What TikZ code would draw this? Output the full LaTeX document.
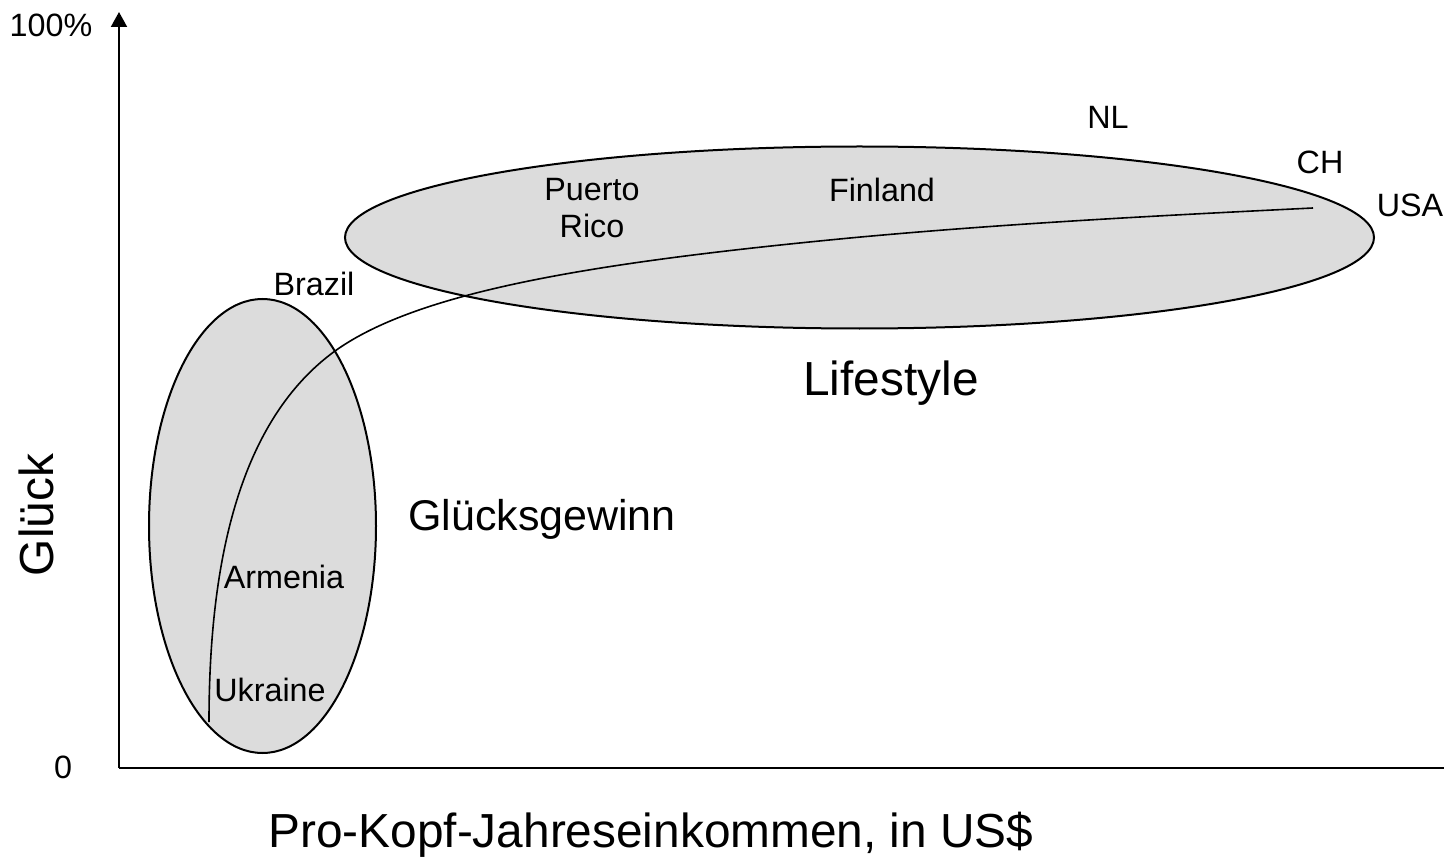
\documentclass[tikz,border=0pt]{standalone}
\usepackage{fontspec}
\setmainfont{Liberation Sans}
\usetikzlibrary{arrows.meta}
\definecolor{blobfill}{HTML}{DCDCDC}
\tikzset{
  axisline/.style={line width=2pt, draw=black},
  blob/.style={line width=2pt, draw=black, fill=blobfill},
  trend/.style={line width=1.6pt, draw=black},
  small/.style={font=\fontsize{32.3}{37}\selectfont, inner sep=0pt, align=center},
  big/.style={font=\fontsize{47.8}{54}\selectfont, inner sep=0pt},
  mid/.style={font=\fontsize{43}{48}\selectfont, inner sep=0pt}
}
\begin{document}
\begin{tikzpicture}[x=1pt,y=-1pt]
\useasboundingbox (0,0) rectangle (1444,861);
% regions
\path[blob] (262.5,526) ellipse [x radius=113.5, y radius=227];
\path[blob] (859.5,237.5) ellipse [x radius=514.5, y radius=91];
% axes
\coordinate (O) at (119,768);
\coordinate (ytop) at (119,12);
\coordinate (xend) at (1444,768);
\draw[axisline, -{Triangle[length=15pt,width=16pt]}] (O) -- (ytop);
\draw[axisline] (O) -- (xend);
% trend curve
\coordinate (c0) at (209,722);
\coordinate (c1) at (335,351);
\coordinate (c2) at (1313,208);
\draw[trend] (c0) .. controls (209,560) and (240,420) .. (c1)
  .. controls (420,290) and (600,262) .. (850,238)
  .. controls (1000,224) and (1150,216) .. (c2);
% labels
\node[small] (l100) at (51,25) {100\%};
\node[small] (l0) at (63,767) {0};
\node[big, rotate=90] (glueck) at (36,515) {Glück};
\node[big] (xlab) at (651,835) {Pro-Kopf-Jahreseinkommen, in US\$};
\node[big] (life) at (891,383) {Lifestyle};
\node[mid] (gewinn) at (542,519) {Glücksgewinn};
\node[small] (brazil) at (314,284) {Brazil};
\node[small] (pr) at (592,208) {Puerto\\Rico};
\node[small] (fin) at (882,190) {Finland};
\node[small] (nl) at (1108,117) {NL};
\node[small] (ch) at (1320,162) {CH};
\node[small] (usa) at (1410,205) {USA};
\node[small] (arm) at (284,577) {Armenia};
\node[small] (ukr) at (270,690) {Ukraine};
\end{tikzpicture}
\end{document}
